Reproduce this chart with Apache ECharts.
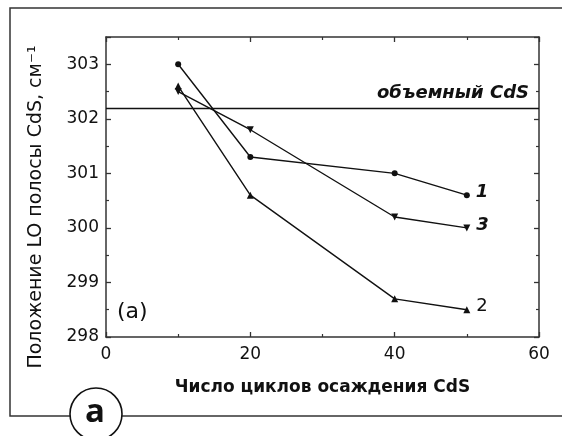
<!DOCTYPE html>
<html><head><meta charset="utf-8">
<script src="https://cdn.jsdelivr.net/npm/echarts@6/dist/echarts.min.js"></script>
<style>html,body{margin:0;padding:0;background:#fff}#c{width:562px;height:436px}</style>
</head><body><div id="c"></div>
<script>
var cycles = [10, 20, 40, 50];
var series1 = [303.0, 301.3, 301.0, 300.6];
var series2 = [302.6, 300.6, 298.7, 298.5];
var series3 = [302.5, 301.8, 300.2, 300.0];
var bulkCdS = 302.2;
var seriesNames = ['1', '2', '3'];
var xTicks = [0, 20, 40, 60];
var yTicks = [298, 299, 300, 301, 302, 303];

var FONT = 'DejaVu Sans';
var INK = '#111';
function pairs(v){ return cycles.map(function(x,i){ return [x, v[i]]; }); }
function mk(name, vals, sym, size, italic){
  return {
    type:'line', name:name, data:pairs(vals), symbol:sym, symbolSize:size,
    lineStyle:{color:INK,width:1.4}, itemStyle:{color:INK},
    label:{show:true, position:'right', distance:6, offset:[0,-3], color:INK, fontFamily:FONT, fontSize:18,
      fontStyle: italic ? 'italic' : 'normal', fontWeight: italic ? 'bold' : 'normal',
      formatter:function(p){ return p.dataIndex === cycles.length-1 ? name : ''; }},
    animation:false, z:3
  };
}
var axisCommon = {
  axisLine:{show:true, onZero:false, lineStyle:{color:'#333', width:1.5}},
  axisTick:{show:true, inside:true, length:5, lineStyle:{color:'#333', width:1.3}},
  minorTick:{show:true, splitNumber:2, length:3, lineStyle:{color:'#333', width:1.2}},
  splitLine:{show:false}
};
var s3 = mk(seriesNames[2], series3, 'triangle', 7, true);
s3.symbolRotate = 180;
var s1 = mk(seriesNames[0], series1, 'circle', 6, true);
s1.markLine = {
  silent:true, symbol:'none', animation:false,
  lineStyle:{color:INK, width:1.4, type:'solid'},
  label:{show:true, position:'insideEndTop', distance:[10,6], formatter:'объемный CdS', color:INK,
    fontFamily:FONT, fontStyle:'italic', fontWeight:'bold', fontSize:18},
  data:[{yAxis:bulkCdS}]
};
var option = {
  backgroundColor:'#fff',
  animation:false,
  grid:{left:106, right:23, top:37, bottom:99},
  xAxis:[
    Object.assign({type:'value', min:xTicks[0], max:xTicks[xTicks.length-1], interval:20, position:'bottom',
      name:'Число циклов осаждения CdS', nameLocation:'middle', nameGap:42,
      nameTextStyle:{fontFamily:FONT, fontSize:17, fontWeight:'bold', color:INK},
      axisLabel:{color:INK, fontFamily:FONT, fontSize:17, margin:9}}, axisCommon),
    Object.assign({type:'value', min:xTicks[0], max:xTicks[xTicks.length-1], interval:20, position:'top',
      axisLabel:{show:false}}, axisCommon)
  ],
  yAxis:[
    Object.assign({type:'value', min:yTicks[0], max:303.5, interval:1, position:'left',
      axisLabel:{color:INK, fontFamily:FONT, fontSize:17, margin:7,
        formatter:function(v){ return yTicks.indexOf(v) >= 0 ? String(v) : ''; }}}, axisCommon),
    Object.assign({type:'value', min:yTicks[0], max:303.5, interval:1, position:'right',
      axisLabel:{show:false}}, axisCommon)
  ],
  series:[
    s1,
    mk(seriesNames[1], series2, 'triangle', 7, false),
    s3
  ],
  graphic:[
    {type:'text', x:36, y:207, rotation:Math.PI/2,
      style:{text:'Положение LO полосы CdS, см⁻¹', fontFamily:FONT, fontSize:19, fill:INK,
        align:'center', verticalAlign:'middle'}},
    {type:'text', left:117, top:301, style:{text:'(a)', fontFamily:FONT, fontSize:22, fill:INK}},
    {type:'polyline', shape:{points:[[565,8],[10,8],[10,416],[70,416]]}, style:{stroke:'#333', lineWidth:1.5, fill:null}},
    {type:'line', shape:{x1:122,y1:416,x2:565,y2:416}, style:{stroke:'#333', lineWidth:1.5}},
    {type:'circle', shape:{cx:96, cy:414, r:26}, style:{stroke:'#111', lineWidth:1.6, fill:'#fff'}},
    {type:'text', x:95, y:413, style:{text:'a', fontFamily:'Open Sans', fontWeight:'bold', fontSize:33, fill:INK, align:'center', verticalAlign:'middle'}}
  ]
};
var chart = echarts.init(document.getElementById('c'), null, {renderer:'canvas'});
chart.setOption(option);
</script></body></html>
